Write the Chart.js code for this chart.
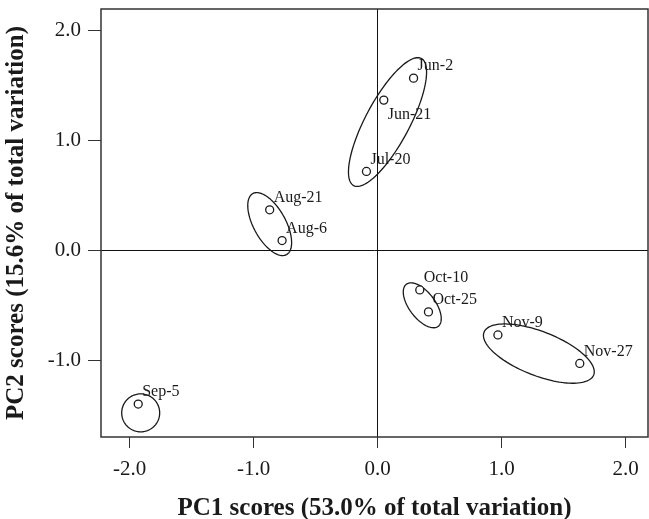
<!DOCTYPE html>
<html>
<head>
<meta charset="utf-8">
<script src="https://cdn.jsdelivr.net/npm/chart.js@4/dist/chart.umd.min.js"></script>
<style>
  html, body { margin: 0; padding: 0; background: #fff; }
  #wrap { width: 649px; height: 519px; }
</style>
</head>
<body>
<div id="wrap"><canvas id="chartPCA"></canvas></div>
<script>
// PCA scores per sampling date
const sampleLabels = ["Jun-2", "Jun-21", "Jul-20", "Aug-21", "Aug-6", "Oct-10", "Oct-25", "Nov-9", "Nov-27", "Sep-5"];
const pc1Scores = [0.29, 0.05, -0.09, -0.87, -0.77, 0.34, 0.41, 0.97, 1.63, -1.93];
const pc2Scores = [1.57, 1.37, 0.72, 0.37, 0.09, -0.36, -0.56, -0.77, -1.03, -1.40];
const labelsBelow = ["Jun-21"];

// group ellipses: centre and two semi-axis vectors, in score units
const ellipseCx = [0.08, -0.87, 0.36, 1.30, -1.91];
const ellipseCy = [1.17, 0.24, -0.50, -0.94, -1.48];
const ellipseUx = [0.273, -0.136, -0.128, 0.442, 0.153];
const ellipseUy = [0.579, 0.278, 0.192, -0.195, 0];
const ellipseVx = [0.157, 0.113, 0.084, -0.065, 0];
const ellipseVy = [-0.094, 0.071, 0.071, -0.187, 0.173];

const xTicks = [-2, -1, 0, 1, 2];
const yTicks = [-1, 0, 1, 2];

const serif = "'Liberation Serif', 'Times New Roman', serif";
const ink = "#1a1a1a";

const ellipsePlugin = {
  id: "ellipses",
  beforeDatasetsDraw(chart) {
    const { ctx, scales: { x, y } } = chart;
    ctx.save();
    ctx.strokeStyle = ink;
    ctx.lineWidth = 1.3;
    for (let k = 0; k < ellipseCx.length; k++) {
      ctx.beginPath();
      for (let s = 0; s <= 120; s++) {
        const t = (s / 120) * Math.PI * 2;
        const vx = ellipseCx[k] + Math.cos(t) * ellipseUx[k] + Math.sin(t) * ellipseVx[k];
        const vy = ellipseCy[k] + Math.cos(t) * ellipseUy[k] + Math.sin(t) * ellipseVy[k];
        const px = x.getPixelForValue(vx);
        const py = y.getPixelForValue(vy);
        if (s === 0) ctx.moveTo(px, py); else ctx.lineTo(px, py);
      }
      ctx.closePath();
      ctx.stroke();
    }
    ctx.restore();
  }
};

const framePlugin = {
  id: "frame",
  afterDraw(chart) {
    const { ctx, chartArea: a } = chart;
    ctx.save();
    ctx.strokeStyle = "#333";
    ctx.lineWidth = 1.5;
    ctx.strokeRect(a.left, a.top, a.right - a.left, a.bottom - a.top);
    ctx.restore();
  }
};

const pointLabelPlugin = {
  id: "pointLabels",
  afterDatasetsDraw(chart) {
    const { ctx } = chart;
    const meta = chart.getDatasetMeta(0);
    ctx.save();
    ctx.font = "16px " + serif;
    ctx.fillStyle = ink;
    ctx.textAlign = "left";
    ctx.textBaseline = "middle";
    meta.data.forEach((pt, i) => {
      const name = sampleLabels[i];
      const dy = labelsBelow.includes(name) ? 15 : -12;
      ctx.fillText(name, pt.x + 4, pt.y + dy);
    });
    ctx.restore();
  }
};

// keep the axis boxes from reserving room for edge tick labels
function noEdgePadding(s) {
  s.paddingLeft = 0; s.paddingRight = 0; s.paddingTop = 0; s.paddingBottom = 0;
}

new Chart(document.getElementById("chartPCA"), {
  type: "scatter",
  data: {
    datasets: [{
      label: "PCA scores",
      data: pc1Scores.map((v, i) => ({ x: v, y: pc2Scores[i] })),
      pointStyle: "circle",
      pointRadius: 4,
      pointBorderWidth: 1.3,
      borderColor: ink,
      backgroundColor: "#fff"
    }]
  },
  options: {
    responsive: true,
    maintainAspectRatio: false,
    animation: false,
    layout: { autoPadding: false, padding: { top: 9, right: 1, left: 0, bottom: 0 } },
    plugins: {
      legend: { display: false },
      tooltip: { enabled: false }
    },
    scales: {
      x: {
        min: -2.23,
        max: 2.18,
        afterBuildTicks: s => { s.ticks = xTicks.map(v => ({ value: v })); },
        afterFit: s => { s.height = 82; noEdgePadding(s); },
        border: { display: false },
        grid: {
          color: c => (c.tick && c.tick.value === 0 ? "#111" : "rgba(0,0,0,0)"),
          tickColor: "#333",
          tickLength: 11,
          lineWidth: 1
        },
        ticks: {
          color: ink,
          padding: 9,
          font: { family: serif, size: 21 },
          callback: v => v.toFixed(1)
        },
        title: {
          display: true,
          text: "PC1 scores (53.0% of total variation)",
          color: ink,
          font: { family: serif, size: 25, weight: "bold", lineHeight: 1.0 },
          padding: { top: 0, bottom: -2 }
        }
      },
      y: {
        min: -1.7,
        max: 2.2,
        afterBuildTicks: s => { s.ticks = yTicks.map(v => ({ value: v })); },
        afterFit: s => { s.width = 101; noEdgePadding(s); },
        border: { display: false },
        grid: {
          color: c => (c.tick && c.tick.value === 0 ? "#111" : "rgba(0,0,0,0)"),
          tickColor: "#333",
          tickLength: 13,
          lineWidth: 1
        },
        ticks: {
          color: ink,
          padding: 7,
          font: { family: serif, size: 21 },
          callback: v => v.toFixed(1)
        },
        title: {
          display: true,
          text: "PC2 scores (15.6% of total variation)",
          color: ink,
          font: { family: serif, size: 25, weight: "bold", lineHeight: 1.0 },
          padding: { top: 4, bottom: 0 }
        }
      }
    }
  },
  plugins: [ellipsePlugin, pointLabelPlugin, framePlugin]
});
</script>
</body>
</html>
